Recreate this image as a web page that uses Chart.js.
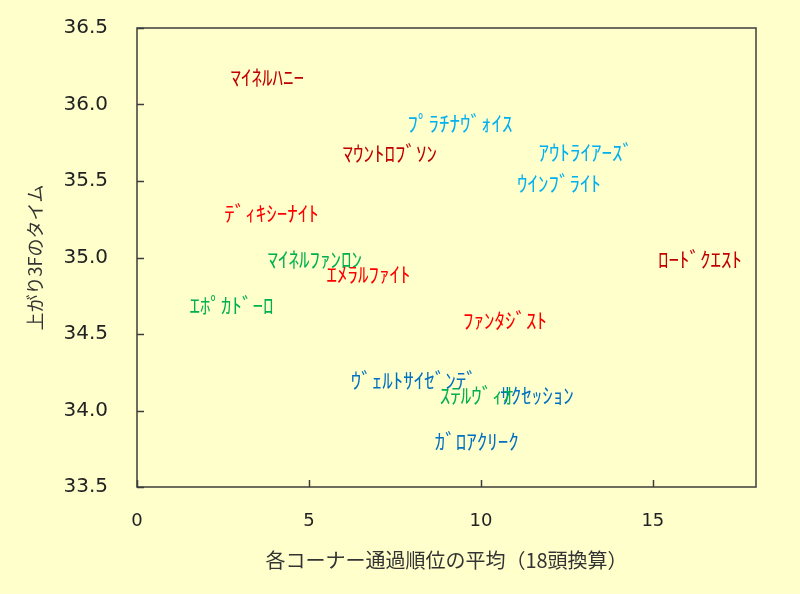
<!DOCTYPE html>
<html>
<head>
<meta charset="utf-8">
<script src="https://cdn.jsdelivr.net/npm/chart.js@4"></script>
<style>
  html, body { margin: 0; padding: 0; background: #ffffcc; }
  canvas { display: block; background: #ffffcc; }
</style>
</head>
<body>
<canvas id="paceChart" width="800" height="594"></canvas>
<script>
// horse names (half-width kana, as in the original sheet)
const horseNames = [
  'ﾏｲﾈﾙﾊﾆｰ', 'ﾌﾟﾗﾁﾅｳﾞｫｲｽ', 'ﾏｳﾝﾄﾛﾌﾞｿﾝ', 'ｱｳﾄﾗｲｱｰｽﾞ', 'ｳｲﾝﾌﾞﾗｲﾄ',
  'ﾃﾞｨｷｼｰﾅｲﾄ', 'ﾏｲﾈﾙﾌｧﾝﾛﾝ', 'ｴﾒﾗﾙﾌｧｲﾄ', 'ﾛｰﾄﾞｸｴｽﾄ', 'ｴﾎﾟｶﾄﾞｰﾛ',
  'ﾌｧﾝﾀｼﾞｽﾄ', 'ｻｸｾｯｼｮﾝ', 'ｳﾞｪﾙﾄｻｲｾﾞﾝﾃﾞ', 'ｽﾃﾙｳﾞｨｵ', 'ｶﾞﾛｱｸﾘｰｸ'
];
// average corner position (18-runner basis)
const cornerAvg = [3.79, 9.39, 7.35, 13.05, 12.27, 3.91, 5.17, 6.73, 16.37, 2.75, 10.70, 11.63, 8.05, 9.87, 9.88];
// last 3F time
const last3f = [36.18, 35.88, 35.68, 35.69, 35.49, 35.29, 34.99, 34.89, 34.99, 34.69, 34.59, 34.10, 34.20, 34.10, 33.80];
// colour group of each label
const labelColors = [
  '#c00000', '#00b0f0', '#c00000', '#00b0f0', '#00b0f0',
  '#ff0000', '#00b050', '#ff0000', '#c00000', '#00b050',
  '#ff0000', '#0070c0', '#0070c0', '#00b050', '#0070c0'
];
const xTickValues = [0, 5, 10, 15];
const yTickValues = [33.5, 34.0, 34.5, 35.0, 35.5, 36.0, 36.5];
const xTitle = '各コーナー通過順位の平均（18頭換算）';
const yTitle = '上がり3Fのタイム';

// write the names at each point, then the frame with inward ticks
const labelsAndFrame = {
  id: 'labelsAndFrame',
  afterDatasetsDraw(chart) {
    const ctx = chart.ctx;
    const meta = chart.getDatasetMeta(0);
    ctx.save();
    ctx.font = '21px "Noto Sans CJK JP"';
    ctx.textAlign = 'center';
    ctx.textBaseline = 'middle';
    meta.data.forEach((pt, i) => {
      ctx.fillStyle = labelColors[i];
      ctx.fillText(horseNames[i], pt.x, pt.y);
    });
    ctx.restore();

    const area = chart.chartArea;
    const xs = chart.scales.x;
    const ys = chart.scales.y;
    ctx.save();
    ctx.strokeStyle = '#3c3c3c';
    ctx.lineWidth = 1.5;
    ctx.strokeRect(area.left, area.top, area.right - area.left, area.bottom - area.top);
    ctx.beginPath();
    xTickValues.forEach(v => {
      const px = Math.round(xs.getPixelForValue(v)) + 0.5;
      ctx.moveTo(px, area.bottom);
      ctx.lineTo(px, area.bottom - 7);
    });
    yTickValues.forEach(v => {
      const py = Math.round(ys.getPixelForValue(v)) + 0.5;
      ctx.moveTo(area.left, py);
      ctx.lineTo(area.left + 7, py);
    });
    ctx.stroke();
    ctx.restore();
  }
};

const paceChart = new Chart(document.getElementById('paceChart'), {
  type: 'scatter',
  data: {
    datasets: [{
      data: cornerAvg.map((x, i) => ({ x: x, y: last3f[i] })),
      pointRadius: 0,
      pointHoverRadius: 0
    }]
  },
  options: {
    responsive: false,
    animation: false,
    devicePixelRatio: 1,
    layout: { padding: { left: 24, top: 28, right: 44, bottom: 14 } },
    plugins: {
      legend: { display: false },
      tooltip: { enabled: false }
    },
    scales: {
      x: {
        type: 'linear',
        min: 0,
        max: 18,
        afterBuildTicks: scale => { scale.ticks = xTickValues.map(v => ({ value: v })); },
        afterFit: scale => { scale.height = 93; },
        grid: { display: false, drawTicks: false },
        border: { display: false },
        ticks: {
          padding: 24,
          color: '#222',
          font: { family: 'DejaVu Sans', size: 18 },
          maxRotation: 0
        },
        title: {
          display: true,
          text: xTitle,
          color: '#333',
          font: { family: 'Noto Sans CJK JP', size: 20 },
          padding: { top: 0, bottom: 8 }
        }
      },
      y: {
        type: 'linear',
        min: 33.5,
        max: 36.5,
        afterBuildTicks: scale => { scale.ticks = yTickValues.map(v => ({ value: v })); },
        afterFit: scale => {
          scale.width = 113;
          scale.paddingTop = 0;
          scale.paddingBottom = 0;
        },
        grid: { display: false, drawTicks: false },
        border: { display: false },
        ticks: {
          padding: 29,
          color: '#222',
          font: { family: 'DejaVu Sans', size: 20 },
          callback: v => Number(v).toFixed(1)
        },
        title: {
          display: true,
          text: yTitle,
          color: '#333',
          font: { family: 'Noto Sans CJK JP', size: 18 },
          padding: { top: 0, bottom: 0 }
        }
      }
    }
  },
  plugins: [labelsAndFrame]
});
</script>
</body>
</html>
